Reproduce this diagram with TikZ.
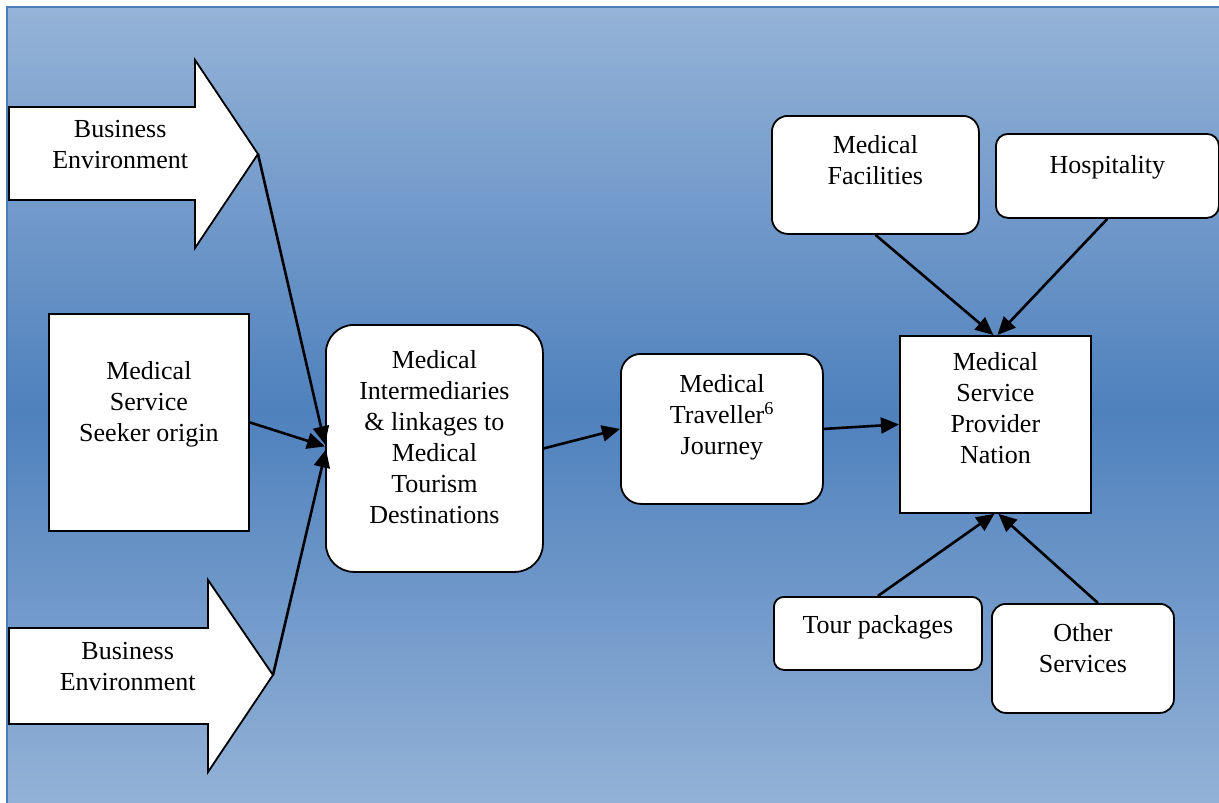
\documentclass[tikz,border=0pt]{standalone}
\usepackage{fontspec}
\setmainfont{Liberation Serif}
\usetikzlibrary{arrows.meta,positioning,calc}
\definecolor{bglight}{HTML}{95B3D7}
\definecolor{bgdark}{HTML}{4F81BD}
\definecolor{bgframe}{HTML}{4A7EBB}
\newcommand{\boxtext}[4]{\parbox[t][#1][t]{#2}{\centering\rule{0pt}{#3}#4}}
\tikzset{
  sqbox/.style={draw=black, fill=white, line width=1.8pt, inner sep=0pt, anchor=north west, font=\fontsize{26}{31}\selectfont},
  rdbox/.style={sqbox, rounded corners=#1},
  btext/.style={inner sep=0pt, anchor=north west, font=\fontsize{26}{31}\selectfont},
  benv/.style={draw=black, fill=white, line width=1.8pt, line join=miter},
  link/.style={line width=2.6pt, -{Triangle[length=18pt,width=16pt]}}
}
\begin{document}
\begin{tikzpicture}[x=1pt, y=-1pt]
	\useasboundingbox (0,0) rectangle (1219,803);
	\clip (0,0) rectangle (1219,803);
	\shade[top color=bglight, bottom color=bglight, middle color=bgdark] (7,7) rectangle (1235,815);
	\draw[draw=bgframe, line width=1.5pt] (7,7) rectangle (1235,815);
	\draw[benv] (9,107) -- (195,107) -- (195,60) -- (258,154) -- (195,248) -- (195,200) -- (9,200) -- cycle;
	\draw[benv] (9,628) -- (208,628) -- (208,580) -- (273,675) -- (208,772) -- (208,724) -- (9,724) -- cycle;
	\coordinate (bt-tip) at (258,154);
	\coordinate (bb-tip) at (273,675);
	\node[btext] (bt) at (9,107) {\boxtext{93pt}{222pt}{30pt}{Business\\Environment}};
	\node[btext] (bb) at (9,628) {\boxtext{96pt}{237pt}{31pt}{Business\\Environment}};
	\node[sqbox] (sso) at (48,313) {\boxtext{217pt}{200pt}{66pt}{Medical\\Service\\Seeker origin}};
	\node[rdbox=28pt] (mi) at (325,324) {\boxtext{247pt}{217pt}{44pt}{Medical\\Intermediaries\\\& linkages to\\Medical\\Tourism\\Destinations}};
	\node[rdbox=20pt] (mtj) at (620,353) {\boxtext{150pt}{202pt}{39pt}{Medical\\Traveller\textsuperscript{6}\\Journey}};
	\node[sqbox] (sp) at (899,335) {\boxtext{177pt}{191pt}{35pt}{Medical\\Service\\Provider\\Nation}};
	\node[rdbox=16pt] (mf) at (771,115) {\boxtext{118pt}{207pt}{38pt}{Medical\\Facilities}};
	\node[rdbox=12pt] (hos) at (995,133) {\boxtext{84pt}{223pt}{40pt}{Hospitality}};
	\node[rdbox=10pt] (tp) at (773,596) {\boxtext{73pt}{208pt}{37pt}{Tour packages}};
	\node[rdbox=14pt] (os) at (991,603) {\boxtext{109pt}{182pt}{38pt}{Other\\Services}};
	\draw[link] (bt-tip) -- ($(mi.west)+(0,-4)$);
	\draw[link] (sso.east) -- ($(mi.west)+(0,-2)$);
	\draw[link] (bb-tip) -- ($(mi.west)+(1,1)$);
	\draw[link] (mi.east) -- (mtj.west);
	\draw[link] (mtj.east) -- (sp.west);
	\draw[link] (mf.south) -- ($(sp.north)+(-2,0)$);
	\draw[link] (hos.south) -- ($(sp.north)+(2,0)$);
	\draw[link] (tp.north) -- ($(sp.south)+(-1,0)$);
	\draw[link] ($(os.north)+(15,0)$) -- ($(sp.south)+(3,0)$);
\end{tikzpicture}
\end{document}
